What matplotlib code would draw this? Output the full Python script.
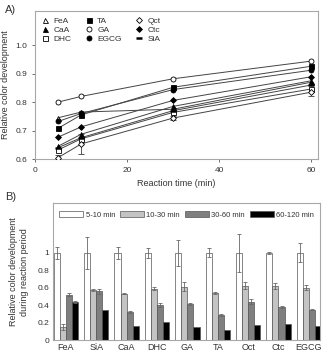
import matplotlib
matplotlib.use("Agg")
import matplotlib.pyplot as plt
import numpy as np

plt.rcParams["font.family"] = ["Liberation Sans", "DejaVu Sans"]

# Panel A: color development over reaction time
times = [5, 10, 30, 60]
compounds_a = ["FeA", "CaA", "DHC", "TA", "GA", "EGCG", "Qct", "Ctc", "SiA"]
values_a = {
    "FeA": [0.745, 0.765, 0.775, 0.870],
    "CaA": [0.645, 0.687, 0.785, 0.875],
    "DHC": [0.632, 0.671, 0.764, 0.846],
    "TA": [0.708, 0.755, 0.852, 0.926],
    "GA": [0.800, 0.820, 0.882, 0.944],
    "EGCG": [0.732, 0.760, 0.844, 0.912],
    "Qct": [0.605, 0.653, 0.744, 0.835],
    "Ctc": [0.677, 0.713, 0.806, 0.889],
    "SiA": [0.640, 0.675, 0.770, 0.860],
}
errors_a = {
    "Qct": [0.008, 0.035, 0.008, 0.012],
}

# Panel B: relative color development per period
compounds_b = ["FeA", "SiA", "CaA", "DHC", "GA", "TA", "Oct", "Ctc", "EGCG"]
periods = ["5-10 min", "10-30 min", "30-60 min", "60-120 min"]
p5_10 = [1, 1, 1, 1, 1, 1, 1, 1, 1]
p5_10_err = [0.07, 0.18, 0.07, 0.06, 0.15, 0.05, 0.22, 0.01, 0.11]
p10_30 = [0.15, 0.57, 0.53, 0.59, 0.61, 0.54, 0.62, 0.62, 0.60]
p10_30_err = [0.04, 0.01, 0.005, 0.02, 0.05, 0.01, 0.04, 0.03, 0.03]
p30_60 = [0.52, 0.56, 0.32, 0.40, 0.41, 0.29, 0.44, 0.375, 0.35]
p30_60_err = [0.02, 0.03, 0.01, 0.02, 0.01, 0.01, 0.03, 0.01, 0.01]
p60_120 = [0.44, 0.34, 0.16, 0.21, 0.155, 0.11, 0.17, 0.185, 0.165]
p60_120_err = [0.01, 0.0, 0.0, 0.0, 0.0, 0.0, 0.0, 0.0, 0.0]

styles = {
    "FeA": dict(marker="^", mfc="white"),
    "CaA": dict(marker="^", mfc="black"),
    "DHC": dict(marker="s", mfc="white"),
    "TA": dict(marker="s", mfc="black"),
    "GA": dict(marker="o", mfc="white"),
    "EGCG": dict(marker="o", mfc="black"),
    "Qct": dict(marker="D", mfc="white", ms=3.0),
    "Ctc": dict(marker="D", mfc="black", ms=3.0),
    "SiA": dict(marker="_", mfc="black", ms=5, mew=1.8),
}

frame_col = "#a8a8a8"
text_col = "#333333"

fig = plt.figure(figsize=(3.22, 3.55), dpi=100)

# ---- Panel A
ax1 = fig.add_axes([0.109, 0.552, 0.879, 0.417])
legend_handles = []
for name in compounds_a:
    st = dict(styles[name])
    ms = st.pop("ms", 3.6)
    mew = st.pop("mew", 0.6)
    ax1.plot(times, values_a[name], color="#444444", lw=0.7, zorder=1)
    if name in errors_a:
        ax1.errorbar(times, values_a[name], yerr=errors_a[name], fmt="none",
                     ecolor="#555555", elinewidth=0.7, capsize=2, capthick=0.7, zorder=2)
    h, = ax1.plot(times, values_a[name], linestyle="none", mec="black",
                  ms=ms, mew=mew, label=name, zorder=3, **st)
    legend_handles.append(h)

ax1.set_xlim(0, 61.5)
ax1.set_ylim(0.6, 1.12)
ax1.set_xticks([0, 20, 40, 60])
ax1.set_yticks([0.6, 0.7, 0.8, 0.9, 1.0])
ax1.set_yticklabels(["0.6", "0.7", "0.8", "0.9", "1.0"])
ax1.set_xlabel("Reaction time (min)", fontsize=6.5, color=text_col, labelpad=4)
ax1.set_ylabel("Relative color development", fontsize=6.5, color=text_col, labelpad=4)
ax1.tick_params(labelsize=6, colors=text_col, length=2, width=0.5)
for sp in ax1.spines.values():
    sp.set_color(frame_col)
    sp.set_linewidth(0.8)
ax1.legend(handles=legend_handles, ncol=3, loc="upper left", frameon=False,
           fontsize=6, handlelength=1.0, handletextpad=0.5, columnspacing=1.6,
           labelspacing=0.15, borderaxespad=0.3, labelcolor=text_col)

# ---- Panel B
ax2 = fig.add_axes([0.165, 0.042, 0.829, 0.386])
x = np.arange(len(compounds_b))
w = 0.2
bar_series = [
    (p5_10, p5_10_err, "white"),
    (p10_30, p10_30_err, "#c4c4c4"),
    (p30_60, p30_60_err, "#7f7f7f"),
    (p60_120, p60_120_err, "black"),
]
for i, (vals, errs, col) in enumerate(bar_series):
    ax2.bar(x + (i - 1.5) * w, vals, width=w, color=col, edgecolor="#555555",
            linewidth=0.5, label=periods[i],
            yerr=errs, error_kw=dict(ecolor="#666666", elinewidth=0.6, capsize=1.5, capthick=0.6))

ax2.set_xlim(-0.42, 8.37)
ax2.set_ylim(0, 1.57)
ax2.set_xticks(x)
ax2.set_xticklabels(compounds_b)
ax2.set_yticks([0, 0.2, 0.4, 0.6, 0.8, 1.0])
ax2.set_yticklabels(["0", "0.2", "0.4", "0.6", "0.8", "1"])
ax2.tick_params(labelsize=6.5, colors=text_col, length=0, pad=2)
ax2.tick_params(axis="y", labelsize=6, pad=3)
ax2.set_ylabel("Relative color development\nduring reaction period", fontsize=6.5,
               color=text_col, labelpad=6, linespacing=1.2)
for sp in ax2.spines.values():
    sp.set_color(frame_col)
    sp.set_linewidth(0.8)
ax2.legend(ncol=4, loc="upper center", frameon=False, fontsize=5.5,
           handlelength=3.2, handleheight=0.9, handletextpad=0.3, columnspacing=0.6,
           borderaxespad=0.6, labelcolor=text_col)

fig.text(0.015, 0.985, "A)", fontsize=8, va="top", ha="left", color=text_col)
fig.text(0.015, 0.46, "B)", fontsize=8, va="top", ha="left", color=text_col)

fig.savefig("out.png", dpi=100)
